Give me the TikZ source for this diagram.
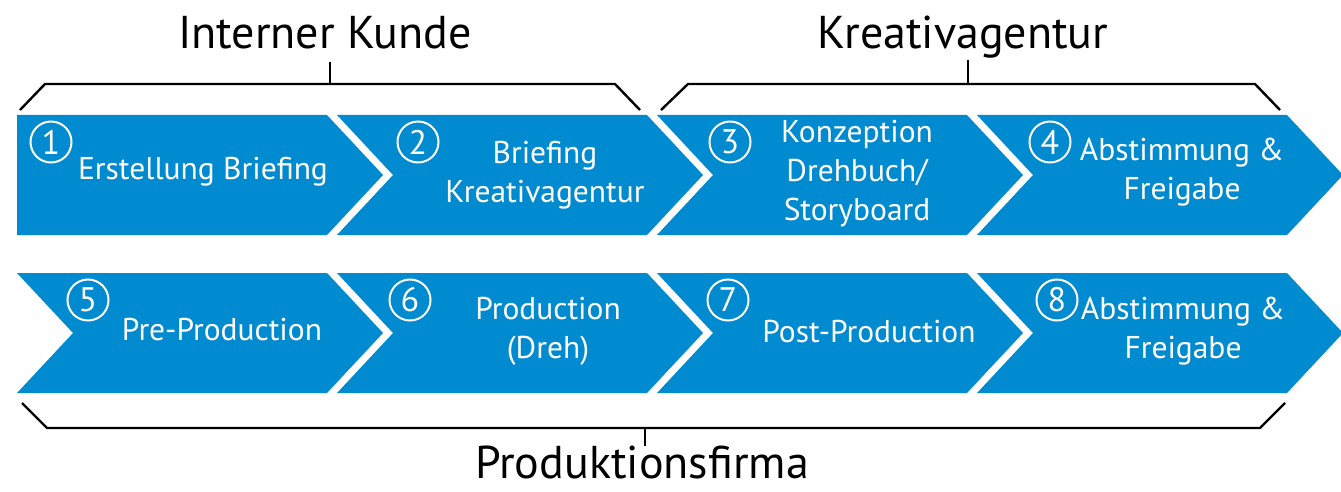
\documentclass[tikz,border=0pt]{standalone}
\usepackage{fontspec}
\setmainfont{PT Sans}
\definecolor{chevblue}{RGB}{0,138,208}
\begin{document}
\begin{tikzpicture}[x=1pt,y=-1pt,
  chev/.style={fill=chevblue,draw=none},
  brace/.style={draw=black,line width=2.4pt,line join=miter},
  lbl/.style={text=white,font=\fontsize{31.5}{39}\selectfont,align=center,inner sep=0pt},
  num/.style={circle,draw=white,line width=2pt,text=white,minimum size=41pt,inner sep=0pt,font=\fontsize{34}{34}\selectfont},
  head/.style={font=\fontsize{46}{46}\selectfont,inner sep=0pt,anchor=base}]
\useasboundingbox (0,0) rectangle (1341,492);
% chevrons row 1
\fill[chev] (17,115) -- (327,115) -- (383,175) -- (327,235) -- (17,235) -- cycle;
\foreach \L in {337,657,977}{
  \fill[chev] (\L,115) -- ({\L+310},115) -- ({\L+366},175) -- ({\L+310},235) -- (\L,235) -- ({\L+56},175) -- cycle;}
% chevrons row 2
\foreach \L in {17,337,657,977}{
  \fill[chev] (\L,273) -- ({\L+310},273) -- ({\L+366},333) -- ({\L+310},393) -- (\L,393) -- ({\L+56},333) -- cycle;}
% numbers
\node[num] (n1) at (51,142) {1};
\node[num] (n2) at (418,142) {2};
\node[num] (n3) at (730,142) {3};
\node[num] (n4) at (1050,142) {4};
\node[num] (n5) at (88,300) {5};
\node[num] (n6) at (410,300) {6};
\node[num] (n7) at (728,300) {7};
\node[num] (n8) at (1057,300) {8};
% labels
\node[lbl] (t1) at (203,172) {Erstellung Briefing};
\node[lbl] (t2) at (545,175) {Briefing\\Kreativagentur};
\node[lbl] (t3) at (857,174) {Konzeption\\Drehbuch/\\Storyboard};
\node[lbl] (t4) at (1182,172) {Abstimmung \&\\Freigabe};
\node[lbl] (t5) at (222,330) {Pre-Production};
\node[lbl] (t6) at (548,331) {Production\\(Dreh)};
\node[lbl] (t7) at (869,332) {Post-Production};
\node[lbl] (t8) at (1183,331) {Abstimmung \&\\Freigabe};
% headers
\node[head] (h1) at (325,49) {Interner Kunde};
\node[head] (h2) at (963,49) {Kreativagentur};
\node[head] (h3) at (642,478) {Produktionsfirma};
% braces
\coordinate (b1t) at (330,62);
\draw[brace] (20,110) -- (45,84) -- (615,84) -- (640,110);
\draw[brace] (330,84) -- (b1t);
\coordinate (b2t) at (968,60);
\draw[brace] (661,110) -- (688,84) -- (1255,84) -- (1280,110);
\draw[brace] (968,84) -- (b2t);
\coordinate (b3t) at (645,446);
\draw[brace] (22,403) -- (47,428) -- (1260,428) -- (1285,403);
\draw[brace] (645,428) -- (b3t);
\end{tikzpicture}
\end{document}
